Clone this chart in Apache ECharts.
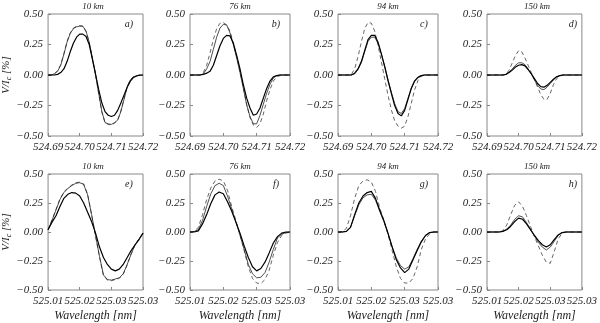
<!DOCTYPE html>
<html><head><meta charset="utf-8">
<script src="https://cdn.jsdelivr.net/npm/echarts@6/dist/echarts.min.js"></script>
<style>html,body{margin:0;padding:0;background:#fff}#c{width:600px;height:323px}</style>
</head><body><div id="c"></div>
<script>
// Wavelength grids (nm)
const wlTop = [524.690,524.691,524.692,524.693,524.694,524.695,524.696,524.697,524.698,524.699,524.700,524.701,524.702,524.703,524.704,524.705,524.706,524.707,524.708,524.709,524.710,524.711,524.712,524.713,524.714,524.715,524.716,524.717,524.718,524.719,524.720];
const wlBot = [525.010,525.011,525.012,525.013,525.014,525.015,525.016,525.017,525.018,525.019,525.020,525.021,525.022,525.023,525.024,525.025,525.026,525.027,525.028,525.029,525.030,525.031,525.032,525.033,525.034];
const topTicks = ['524.69','524.70','524.71','524.72'];
const botTicks = ['525.01','525.02','525.03','525.03'];
const yTicks = ['\u22120.50','\u22120.25','0.00','0.25','0.50'];
const heights = ['10 km','76 km','94 km','150 km','10 km','76 km','94 km','150 km'];
const panelLabels = ['a)','b)','c)','d)','e)','f)','g)','h)'];

// V/Ic [%] profiles: thick solid, thin solid, dashed
const thickA = [0,0,0,0.005,0.02,0.05,0.11,0.19,0.26,0.31,0.335,0.335,0.315,0.25,0.13,0.005,-0.12,-0.23,-0.30,-0.33,-0.34,-0.33,-0.29,-0.23,-0.165,-0.10,-0.05,-0.02,-0.008,-0.002,0];
const thinA  = [0,0,0.01,0.03,0.08,0.17,0.27,0.34,0.38,0.395,0.40,0.40,0.36,0.27,0.14,0.01,-0.15,-0.30,-0.39,-0.40,-0.405,-0.39,-0.37,-0.30,-0.20,-0.10,-0.04,-0.015,-0.005,0,0];
const dashA  = [0,0,0.01,0.035,0.085,0.175,0.275,0.345,0.385,0.40,0.405,0.40,0.355,0.265,0.135,0.005,-0.155,-0.305,-0.39,-0.405,-0.41,-0.395,-0.37,-0.295,-0.195,-0.095,-0.04,-0.015,-0.005,0,0];

const thickB = [0,0,0,0,0.005,0.015,0.03,0.08,0.16,0.24,0.30,0.325,0.32,0.26,0.16,0.05,-0.08,-0.19,-0.27,-0.33,-0.32,-0.27,-0.19,-0.11,-0.05,-0.015,-0.005,0,0,0,0];
const thinB  = [0,0,0,0,0.01,0.05,0.11,0.21,0.31,0.385,0.415,0.41,0.345,0.25,0.14,0.02,-0.11,-0.245,-0.34,-0.40,-0.40,-0.33,-0.24,-0.15,-0.075,-0.025,-0.005,0,0,0,0];
const dashB  = [0,0,0,0,0.02,0.08,0.18,0.29,0.38,0.425,0.43,0.41,0.36,0.26,0.15,0.03,-0.10,-0.24,-0.35,-0.41,-0.43,-0.40,-0.32,-0.21,-0.12,-0.05,-0.015,-0.005,0,0,0];

const thickC = [0,0,0,0,0,0.015,0.05,0.11,0.20,0.29,0.325,0.325,0.27,0.175,0.07,-0.045,-0.15,-0.25,-0.315,-0.335,-0.29,-0.20,-0.11,-0.05,-0.02,-0.005,0,0,0,0,0];
const thinC  = [0,0,0,0,0,0.01,0.045,0.10,0.19,0.275,0.31,0.31,0.26,0.17,0.07,-0.04,-0.14,-0.235,-0.30,-0.315,-0.275,-0.19,-0.105,-0.045,-0.015,-0.005,0,0,0,0,0];
const dashC  = [0,0,0,0,0.005,0.05,0.15,0.27,0.38,0.43,0.425,0.36,0.245,0.11,-0.03,-0.165,-0.285,-0.375,-0.42,-0.435,-0.42,-0.34,-0.23,-0.12,-0.045,-0.01,0,0,0,0,0];

const thickD = [0,0,0,0,0,0,0.005,0.02,0.04,0.065,0.08,0.085,0.075,0.045,0.01,-0.03,-0.07,-0.095,-0.10,-0.085,-0.06,-0.035,-0.015,-0.005,0,0,0,0,0,0,0];
const thinD  = [0,0,0,0,0,0,0.005,0.025,0.05,0.08,0.10,0.10,0.085,0.05,0.01,-0.04,-0.085,-0.115,-0.12,-0.10,-0.07,-0.04,-0.015,-0.005,0,0,0,0,0,0,0];
const dashD  = [0,0,0,0,0,0,0.005,0.04,0.10,0.16,0.20,0.19,0.14,0.08,0.02,-0.04,-0.10,-0.16,-0.20,-0.20,-0.15,-0.08,-0.03,-0.01,0,0,0,0,0,0,0];

const thickE = [0.02,0.085,0.14,0.22,0.29,0.325,0.34,0.335,0.31,0.25,0.17,0.09,-0.01,-0.13,-0.22,-0.28,-0.32,-0.335,-0.32,-0.28,-0.22,-0.16,-0.11,-0.065,-0.01];
const thinE  = [0.02,0.10,0.19,0.28,0.34,0.375,0.40,0.42,0.425,0.41,0.32,0.15,-0.03,-0.21,-0.37,-0.41,-0.415,-0.405,-0.395,-0.36,-0.28,-0.19,-0.11,-0.06,-0.01];
const dashE  = [0.02,0.105,0.195,0.285,0.345,0.38,0.405,0.425,0.43,0.415,0.325,0.15,-0.035,-0.215,-0.375,-0.415,-0.42,-0.41,-0.40,-0.365,-0.285,-0.19,-0.11,-0.06,-0.01];

const thickF = [0,0,0.01,0.07,0.15,0.245,0.32,0.345,0.33,0.26,0.18,0.085,-0.01,-0.12,-0.22,-0.30,-0.335,-0.315,-0.26,-0.18,-0.095,-0.04,-0.01,0,0];
const thinF  = [0,0.005,0.02,0.10,0.22,0.33,0.40,0.42,0.40,0.31,0.20,0.09,-0.03,-0.15,-0.28,-0.36,-0.395,-0.39,-0.35,-0.26,-0.15,-0.05,-0.02,-0.005,0];
const dashF  = [0,0.005,0.04,0.15,0.28,0.38,0.44,0.455,0.44,0.36,0.22,0.10,-0.02,-0.16,-0.30,-0.40,-0.44,-0.445,-0.41,-0.33,-0.20,-0.09,-0.03,-0.01,0];

const thickG = [0,0,0.005,0.04,0.15,0.25,0.31,0.34,0.35,0.29,0.19,0.10,-0.01,-0.13,-0.24,-0.31,-0.35,-0.32,-0.24,-0.16,-0.085,-0.03,-0.005,0,0];
const thinG  = [0,0,0.005,0.04,0.14,0.235,0.295,0.32,0.325,0.275,0.18,0.09,-0.015,-0.125,-0.225,-0.29,-0.32,-0.30,-0.23,-0.15,-0.08,-0.03,-0.005,0,0];
const dashG  = [0,0.005,0.03,0.14,0.29,0.40,0.44,0.45,0.43,0.35,0.21,0.10,-0.02,-0.16,-0.30,-0.40,-0.44,-0.44,-0.40,-0.30,-0.15,-0.06,-0.015,0,0];

const thickH = [0,0,0,0,0.005,0.02,0.05,0.09,0.12,0.11,0.07,0.02,-0.03,-0.075,-0.11,-0.13,-0.11,-0.065,-0.025,-0.005,0,0,0,0,0];
const thinH  = [0,0,0,0,0.005,0.025,0.06,0.11,0.14,0.13,0.08,0.025,-0.035,-0.09,-0.13,-0.155,-0.13,-0.08,-0.03,-0.005,0,0,0,0,0];
const dashH  = [0,0,0,0,0.01,0.06,0.15,0.23,0.26,0.22,0.14,0.05,-0.04,-0.12,-0.20,-0.26,-0.27,-0.17,-0.06,-0.01,0,0,0,0,0];

const panels = [
  [thickA,thinA,dashA],[thickB,thinB,dashB],[thickC,thinC,dashC],[thickD,thinD,dashD],
  [thickE,thinE,dashE],[thickF,thinF,dashF],[thickG,thinG,dashG],[thickH,thinH,dashH]
];

const FONT = 'Liberation Serif';
const lefts = [43,190,338,487];
const tops = [14,174];
const W = 100, H = 122;

const grids=[], xAxes=[], yAxes=[], series=[], graphics=[];
for (let i=0;i<8;i++){
  const row = Math.floor(i/4), col = i%4;
  const isTop = row===0;
  const wl = isTop ? wlTop : wlBot;
  const w0 = wl[0];
  const ticks = isTop ? topTicks : botTicks;
  const xMax = isTop ? 30 : 24, xInt = isTop ? 10 : 8;
  grids.push({left:lefts[col], top:tops[row], width:W, height:H, show:true, borderColor:'#888', borderWidth:1, backgroundColor:'transparent'});
  xAxes.push({
    type:'value', gridIndex:i, min:0, max:xMax, interval:xInt,
    axisLine:{show:false, onZero:false}, splitLine:{show:false},
    axisTick:{show:true, inside:true, length:3, lineStyle:{color:'#888'}},
    axisLabel:{fontFamily:FONT, fontStyle:'italic', fontSize:11, color:'#222', margin:6,
      formatter:(v)=>ticks[Math.round(v/xInt)] || ''},
    name: isTop ? '' : 'Wavelength [nm]', nameLocation:'middle', nameGap:20,
    nameTextStyle:{fontFamily:FONT, fontStyle:'italic', fontSize:12, color:'#222'}
  });
  yAxes.push({
    type:'value', gridIndex:i, min:-0.5, max:0.5, interval:0.25,
    axisLine:{show:false, onZero:false}, splitLine:{show:false},
    axisTick:{show:true, inside:true, length:3, lineStyle:{color:'#888'}},
    axisLabel:{fontFamily:FONT, fontStyle:'italic', fontSize:11, color:'#222', margin:5,
      formatter:(v)=>yTicks[Math.round((v+0.5)/0.25)]},
    name: col===0 ? 'V/I{s|c} [%]' : '', nameLocation:'middle', nameGap:31, nameRotate:90,
    nameTextStyle:{fontFamily:FONT, fontStyle:'italic', fontSize:11, color:'#222',
      rich:{s:{fontFamily:FONT, fontStyle:'italic', fontSize:8, color:'#222', verticalAlign:'bottom', padding:[4,0,0,0]}}}
  });
  const [thick,thin,dash] = panels[i];
  const toPts = arr => arr.map((y,j)=>[Math.round((wl[j]-w0)*1e4)/10, y]);
  series.push({type:'line', xAxisIndex:i, yAxisIndex:i, data:toPts(dash), showSymbol:false, silent:true,
    lineStyle:{color:'#555', width:0.9, type:[4,3]}});
  series.push({type:'line', xAxisIndex:i, yAxisIndex:i, data:toPts(thin), showSymbol:false, silent:true,
    lineStyle:{color:'#222', width:0.8}});
  series.push({type:'line', xAxisIndex:i, yAxisIndex:i, data:toPts(thick), showSymbol:false, silent:true,
    lineStyle:{color:'#000', width:1.2}});
  graphics.push({type:'text', x:lefts[col]+W/2, y:tops[row]-7,
    style:{text:heights[i], align:'center', verticalAlign:'middle', font:'italic 9px "Liberation Serif"', fill:'#222'}});
  graphics.push({type:'text', x:lefts[col]+W-14, y:tops[row]+10,
    style:{text:panelLabels[i], align:'center', verticalAlign:'middle', font:'italic 10px "Liberation Serif"', fill:'#222'}});
}

const chart = echarts.init(document.getElementById('c'), null, {renderer:'canvas'});
chart.setOption({
  animation:false, backgroundColor:'#fff',
  grid:grids, xAxis:xAxes, yAxis:yAxes, series:series, graphic:graphics
});
</script></body></html>
